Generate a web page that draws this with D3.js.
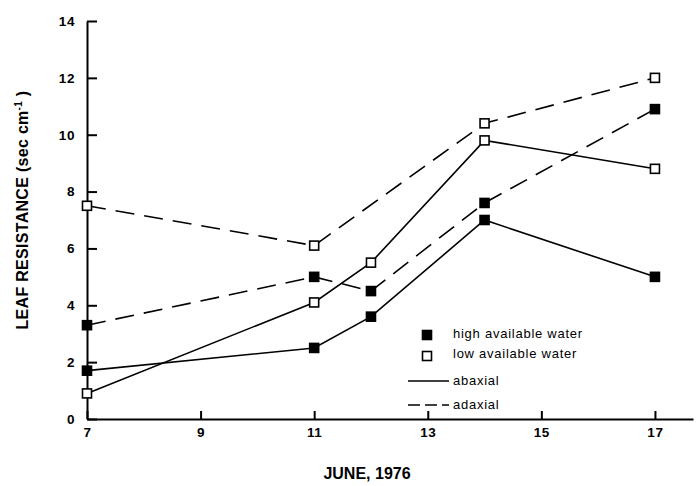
<!DOCTYPE html>
<html>
<head>
<meta charset="utf-8">
<script src="https://cdn.jsdelivr.net/npm/d3@7"></script>
<style>
  body { margin: 0; background: #fff; }
  svg { display: block; font-family: "Liberation Sans", Arial, sans-serif; }
  .axis path, .axis line { stroke: #000; stroke-width: 2; }
  .axis text { font-size: 13.5px; font-weight: bold; fill: #000; letter-spacing: 0.6px; }
  .legend text { font-size: 13px; fill: #000; letter-spacing: 0.75px; }
</style>
</head>
<body>
<script>
// days in June 1976
var days = [7, 11, 12, 14, 17];
// leaf resistance, sec cm-1 (null = no reading)
var highAbaxial = [1.7, 2.5, 3.6, 7.0, 5.0];
var highAdaxial = [3.3, 5.0, 4.5, 7.6, 10.9];
var lowAbaxial = [0.9, 4.1, 5.5, 9.8, 8.8];
var lowAdaxial = [7.5, 6.1, null, 10.4, 12.0];
var xTicks = [7, 9, 11, 13, 15, 17];
var yTicks = [0, 2, 4, 6, 8, 10, 12, 14];

window.onload = function() {
  var w = 700, h = 486;
  var svg = d3.select("body").append("svg")
    .attr("width", w)
    .attr("height", h);

  //scales
  var x = d3.scaleLinear().domain([7, 17.67]).range([87, 693]);
  var y = d3.scaleLinear().domain([0, 14]).range([419, 21]);

  //axes with inward ticks
  svg.append("g")
    .attr("class", "axis")
    .attr("transform", "translate(0," + y(0) + ")")
    .call(d3.axisBottom(x).tickValues(xTicks).tickSizeInner(-8).tickSizeOuter(0).tickPadding(8));
  svg.append("g")
    .attr("class", "axis")
    .attr("transform", "translate(" + x(7) + ",0)")
    .call(d3.axisLeft(y).tickValues(yTicks).tickSizeInner(-10).tickSizeOuter(0).tickPadding(12));

  //axis titles
  var yTitle = svg.append("text")
    .attr("transform", "translate(28,210) rotate(-90)")
    .attr("text-anchor", "middle")
    .style("font-size", "16px")
    .style("font-weight", "bold")
    .style("letter-spacing", "0.3px");
  yTitle.append("tspan").text("LEAF RESISTANCE (sec cm");
  yTitle.append("tspan").attr("dy", -6).style("font-size", "10px").text("-1");
  yTitle.append("tspan").attr("dy", 6).text(" )");

  svg.append("text")
    .attr("x", 367)
    .attr("y", 479)
    .attr("text-anchor", "middle")
    .style("font-size", "16px")
    .style("font-weight", "bold")
    .text("JUNE, 1976");

  //series
  var series = [
    {vals: highAbaxial, filled: true, dash: null},
    {vals: highAdaxial, filled: true, dash: "19,10"},
    {vals: lowAbaxial, filled: false, dash: null},
    {vals: lowAdaxial, filled: false, dash: "19,10"}
  ];
  var line = d3.line()
    .x(function(d) { return x(d.day); })
    .y(function(d) { return y(d.v); });

  series.forEach(function(s) {
    var pts = days.map(function(d, i) { return {day: d, v: s.vals[i]}; })
      .filter(function(d) { return d.v !== null; });
    svg.append("path")
      .datum(pts)
      .attr("d", line)
      .attr("fill", "none")
      .attr("stroke", "#000")
      .attr("stroke-width", 1.6)
      .attr("stroke-dasharray", s.dash);
    svg.selectAll(null)
      .data(pts)
      .enter()
      .append("rect")
      .attr("x", function(d) { return x(d.day) - 4.5; })
      .attr("y", function(d) { return y(d.v) - 4.5; })
      .attr("width", 9)
      .attr("height", 9)
      .attr("fill", s.filled ? "#000" : "#fff")
      .attr("stroke", "#000")
      .attr("stroke-width", 1.6);
  });

  //legend
  var lg = svg.append("g").attr("class", "legend");
  var lx = 427, tx = 453;
  lg.append("rect").attr("x", lx - 4.5).attr("y", 330.5).attr("width", 9).attr("height", 9)
    .attr("fill", "#000").attr("stroke", "#000").attr("stroke-width", 1.6);
  lg.append("text").attr("x", tx).attr("y", 338).text("high available water");
  lg.append("rect").attr("x", lx - 4.5).attr("y", 351.5).attr("width", 9).attr("height", 9)
    .attr("fill", "#fff").attr("stroke", "#000").attr("stroke-width", 1.6);
  lg.append("text").attr("x", tx).attr("y", 358).text("low available water");
  lg.append("line").attr("x1", 408).attr("x2", 449).attr("y1", 381).attr("y2", 381)
    .attr("stroke", "#000").attr("stroke-width", 1.5);
  lg.append("text").attr("x", tx).attr("y", 385).text("abaxial");
  lg.append("line").attr("x1", 408).attr("x2", 449).attr("y1", 405).attr("y2", 405)
    .attr("stroke", "#000").attr("stroke-width", 1.5).attr("stroke-dasharray", "12,5");
  lg.append("text").attr("x", tx).attr("y", 409).text("adaxial");
};
</script>
</body>
</html>
